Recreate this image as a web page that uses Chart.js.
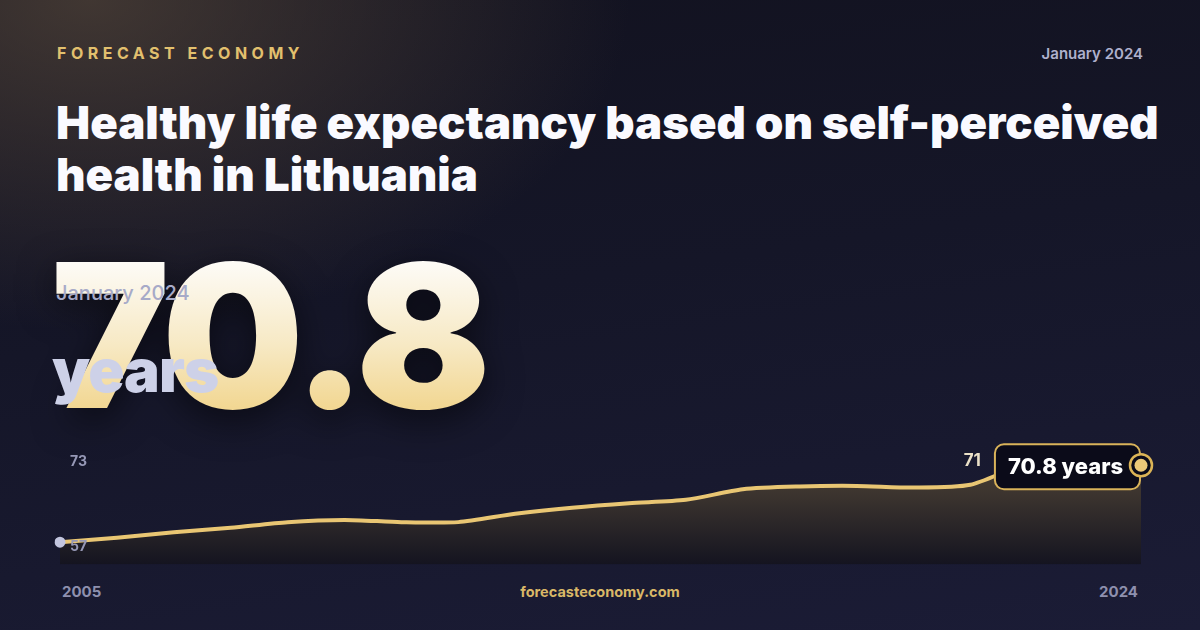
<!DOCTYPE html>
<html>
<head>
<meta charset="utf-8">
<script src="https://cdn.jsdelivr.net/npm/chart.js@4.4.1/dist/chart.umd.min.js"></script>
<style>
  html, body { margin: 0; padding: 0; }
  body {
    width: 1200px; height: 630px; overflow: hidden; position: relative;
    font-family: Inter, "Noto Sans", sans-serif;
    background:
      radial-gradient(ellipse 540px 330px at 90px 0px, rgba(84,70,58,0.7), rgba(84,70,58,0) 100%),
      linear-gradient(172deg, #12121f 0%, #151628 45%, #1b1c36 100%);
  }
  .brand { position: absolute; left: 57px; top: 45px; font-size: 16px; line-height: 16px; font-weight: 700; letter-spacing: 4.5px; color: #e2c06e; }
  .date-top { position: absolute; right: 57px; top: 46px; font-size: 15px; line-height: 15px; font-weight: 600; color: #aeb0cc; }
  h1 { position: absolute; left: 56px; top: 97px; margin: 0; width: 1140px; font-size: 45.5px; line-height: 52px; font-weight: 900; color: #fafaff; letter-spacing: 0px; }
  .big {
    position: absolute; left: 51px; top: 235px; font-size: 200px; line-height: 200px; font-weight: 900; letter-spacing: -5px;
    background: linear-gradient(180deg, #fefdfb 0%, #fdfbf6 14%, #f7e9c4 55%, #f2d793 86%, #f2d793 100%);
    -webkit-background-clip: text; background-clip: text; color: transparent;
    filter: drop-shadow(0 10px 18px rgba(0,0,0,0.55));
  }
  .big-date { position: absolute; left: 56px; top: 283px; font-size: 20px; line-height: 20px; font-weight: 500; color: #a7aac8; }
  .big-unit { position: absolute; left: 52px; top: 340px; font-size: 60px; line-height: 60px; font-weight: 900; letter-spacing: -1px; color: #cdd1e8; }
  .chart-box { position: absolute; left: 40px; top: 430px; width: 1130px; height: 140px; }
  .foot { position: absolute; top: 584px; font-size: 15px; line-height: 15px; font-weight: 700; color: #8e90ae; }
  .foot.site { left: 0; width: 1200px; text-align: center; font-size: 14.5px; color: #d9b867; }
</style>
</head>
<body>
<div class="brand">FORECAST ECONOMY</div>
<div class="date-top">January 2024</div>
<h1>Healthy life expectancy based on self-perceived health in Lithuania</h1>
<div class="big">70.8</div>
<div class="big-date">January 2024</div>
<div class="big-unit">years</div>
<div class="chart-box"><canvas id="lifeChart"></canvas></div>
<div class="foot" style="left:62px">2005</div>
<div class="foot site">forecasteconomy.com</div>
<div class="foot" style="right:62px">2024</div>

<script>
// Dados: esperança de vida saudável (anos), Lituânia
const years = ['2005', '2006', '2007', '2008', '2009', '2010', '2011', '2012', '2013', '2014',
               '2015', '2016', '2017', '2018', '2019', '2020', '2021', '2022', '2023', '2024'];
const lifeYears = [57.0, 57.8, 58.8, 59.6, 60.6, 61.0, 60.6, 60.6, 62.1, 63.2,
                   64.0, 64.6, 66.5, 67.0, 67.1, 66.8, 67.3, 71.0, 70.9, 70.8];
const axisLabels = ['73', '57'];
const peakLabel = '71';
const endLabel = '70.8 years';

// Rótulos e marcador final desenhados sobre o gráfico
const overlayPlugin = {
    id: 'overlay',
    afterDatasetsDraw(chart) {
        const { ctx, chartArea } = chart;
        const meta = chart.getDatasetMeta(0);
        const first = meta.data[0];
        const last = meta.data[meta.data.length - 1];

        ctx.save();
        ctx.font = '700 14px Inter';
        ctx.fillStyle = '#9698b6';
        ctx.textBaseline = 'middle';
        ctx.textAlign = 'left';
        ctx.fillText(axisLabels[0], chartArea.left + 10, chartArea.top + 9);
        ctx.fillText(axisLabels[1], chartArea.left + 10, first.y + 5);

        // caixa do último valor
        ctx.font = '800 22px Inter';
        const tw = ctx.measureText(endLabel).width;
        const bw = tw + 30, bh = 45;
        const bx = last.x - 1 - bw, by = last.y - 21;
        ctx.beginPath();
        ctx.roundRect(bx, by, bw, bh, 9);
        ctx.fillStyle = '#0b0b19';
        ctx.fill();
        ctx.lineWidth = 2;
        ctx.strokeStyle = '#d9b35a';
        ctx.stroke();
        ctx.fillStyle = '#ffffff';
        ctx.fillText(endLabel, bx + 13, by + bh / 2 + 1);

        ctx.font = '700 17px Inter';
        ctx.fillStyle = '#ebe1c8';
        ctx.textAlign = 'right';
        ctx.fillText(peakLabel, bx - 14, by + 17);

        // marcador final
        ctx.beginPath();
        ctx.arc(last.x, last.y, 11, 0, Math.PI * 2);
        ctx.fillStyle = '#0b0b19';
        ctx.fill();
        ctx.lineWidth = 2.5;
        ctx.strokeStyle = '#dcb456';
        ctx.stroke();
        ctx.beginPath();
        ctx.arc(last.x, last.y, 6.5, 0, Math.PI * 2);
        ctx.fillStyle = '#ecc978';
        ctx.fill();
        ctx.restore();
    }
};

const ctx = document.getElementById('lifeChart');
new Chart(ctx, {
    type: 'line',
    data: {
        labels: years,
        datasets: [{
            data: lifeYears,
            borderColor: '#e9c673',
            borderWidth: 4,
            tension: 0.25,
            fill: 'start',
            backgroundColor: (c) => {
                const area = c.chart.chartArea;
                if (!area) return 'rgba(0,0,0,0)';
                const g = c.chart.ctx.createLinearGradient(0, area.top, 0, area.bottom);
                g.addColorStop(0, '#4c4033');
                g.addColorStop(0.35, '#3d352f');
                g.addColorStop(1, '#141420');
                return g;
            },
            pointRadius: (c) => c.dataIndex === 0 ? 5.5 : 0,
            pointBackgroundColor: '#c3c6df',
            pointBorderWidth: 0
        }]
    },
    options: {
        responsive: true,
        maintainAspectRatio: false,
        animation: false,
        layout: { padding: { left: 20, right: 29, top: 23, bottom: 5 } },
        plugins: {
            legend: { display: false },
            tooltip: { enabled: false }
        },
        scales: {
            x: { display: false },
            y: { display: false, min: 53, max: 73 }
        }
    },
    plugins: [overlayPlugin]
});
</script>
</body>
</html>
